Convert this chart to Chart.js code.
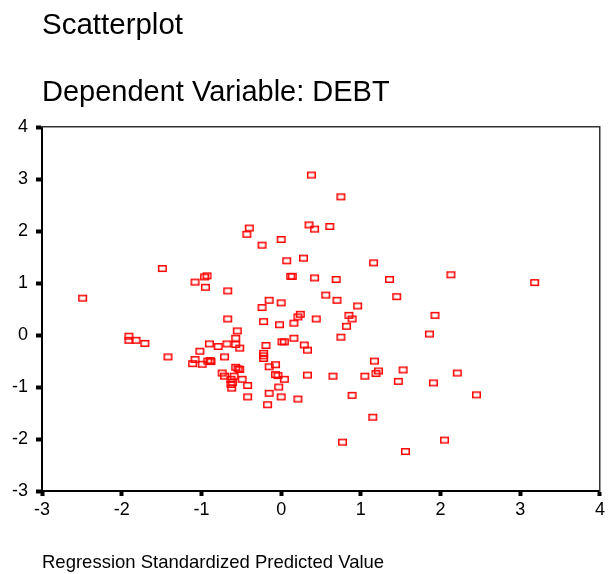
<!DOCTYPE html>
<html><head><meta charset="utf-8">
<script src="https://cdn.jsdelivr.net/npm/chart.js@4"></script>
<style>html,body{margin:0;padding:0;background:#fff}</style>
</head><body>
<canvas id="c" width="608" height="574" style="width:608px;height:574px;display:block"></canvas>
<script>
const titleText = "Scatterplot";
const subtitleText = "Dependent Variable: DEBT";
const xAxisLabel = "Regression Standardized Predicted Value";
const axisMin = -3;
const axisMax = 4;
const predicted = [
 -2.49,-1.49,-1.08,-1.91,-1.91,-1.82,-1.71,-1.42,-1.11,-1.08,-1.02,
 0.38,0.75,-0.40,-0.43,0.35,0.42,0.61,0.00,-0.24,0.07,0.28,1.16,
 -0.96,-0.93,-0.95,-0.67,0.12,0.14,0.42,0.69,1.36,1.45,0.56,0.70,0.96,
 -0.15,0.00,-0.24,-0.67,-0.22,-0.02,0.16,0.21,0.24,0.44,0.85,0.89,0.82,
 0.75,0.16,0.29,0.33,0.01,0.04,-0.19,-0.55,-0.57,-0.57,-0.52,-0.68,-0.79,
 -0.90,-0.99,-0.92,-0.89,-0.88,-0.71,-0.22,-0.22,-0.22,-0.07,-0.15,
 -0.74,-0.71,-0.57,-0.54,-0.52,-0.59,-0.63,-0.61,-0.63,-0.62,-0.49,
 -0.42,-0.42,-0.07,-0.04,0.04,-0.03,-0.15,0.00,-0.17,0.21,0.33,0.65,
 1.05,1.17,1.19,1.22,1.47,0.89,1.15,0.77,2.13,3.18,1.93,1.86,1.53,
 1.91,2.21,2.45,2.05,1.56
];
const residual = [
 0.71,1.28,1.02,-0.02,-0.10,-0.10,-0.16,-0.42,-0.55,-0.47,-0.31,
 3.08,2.66,2.06,1.94,2.12,2.04,2.09,1.84,1.73,1.43,1.48,1.39,
 1.12,1.14,0.92,0.85,1.13,1.13,1.10,1.07,1.07,0.74,0.77,0.67,0.56,
 0.67,0.62,0.53,0.31,0.26,0.20,0.23,0.35,0.40,0.31,0.38,0.31,0.17,
 -0.04,-0.06,-0.19,-0.29,-0.13,-0.13,-0.20,0.08,-0.06,-0.18,-0.25,-0.17,-0.22,
 -0.17,-0.56,-0.50,-0.49,-0.51,-0.42,-0.35,-0.40,-0.45,-0.57,-0.61,
 -0.73,-0.79,-0.62,-0.65,-0.66,-0.79,-0.85,-0.91,-0.95,-1.02,-0.85,
 -0.97,-1.19,-0.76,-0.78,-0.85,-1.00,-1.12,-1.19,-1.34,-1.23,-0.77,-0.79,
 -0.79,-0.50,-0.74,-0.69,-0.89,-1.16,-1.58,-2.06,1.16,1.01,0.38,0.02,-0.67,
 -0.92,-0.73,-1.15,-2.02,-2.24
];

const points = predicted.map((x, i) => ({x: x, y: residual[i]}));

// marker: small hollow red rectangle (about 9 x 7 px)
const marker = document.createElement('canvas');
marker.width = 11; marker.height = 9;
(function(){
  const m = marker.getContext('2d');
  m.strokeStyle = '#ff0000';
  m.lineWidth = 1.5;
  m.strokeRect(1.75, 1.75, 7.5, 5.5);
})();

const FONT = "'Liberation Sans', Arial, Helvetica, sans-serif";

new Chart(document.getElementById('c'), {
  type: 'scatter',
  data: { datasets: [{ data: points, pointStyle: marker, pointRadius: 4, pointHoverRadius: 4 }] },
  options: {
    responsive: false,
    animation: false,
    devicePixelRatio: 1,
    layout: { padding: { left: 0, right: 5, top: 0, bottom: 0 } },
    plugins: {
      legend: { display: false },
      tooltip: { enabled: false },
      title: { display: true, text: titleText, align: 'start', fullSize: false, color: '#000',
               font: { family: FONT, size: 29.5, weight: 'normal' }, padding: { top: 8, bottom: 10 } },
      subtitle: { display: true, text: subtitleText, align: 'start', fullSize: false, color: '#000',
               font: { family: FONT, size: 29, weight: 'normal' }, padding: { top: 22, bottom: 17 } }
    },
    scales: {
      x: {
        type: 'linear', position: 'bottom', min: axisMin, max: axisMax,
        ticks: { stepSize: 1, color: '#000', font: { family: FONT, size: 18 }, padding: 3, maxRotation: 0, autoSkip: false },
        grid: { drawOnChartArea: false, drawTicks: true, tickLength: 5, tickWidth: 4, tickColor: '#000', color: '#000' },
        border: { color: '#000', width: 2 },
        title: { display: true, text: xAxisLabel, align: 'start', color: '#000',
                 font: { family: FONT, size: 18.5 }, padding: { top: 0, bottom: 0 } },
        afterFit(s) { s.height = 83; }
      },
      y: {
        type: 'linear', position: 'left', min: axisMin, max: axisMax,
        ticks: { stepSize: 1, color: '#000', font: { family: FONT, size: 18 }, padding: 8 },
        grid: { drawOnChartArea: false, drawTicks: true, tickLength: 6, tickWidth: 4, tickColor: '#000', color: '#000' },
        border: { color: '#000', width: 2 },
        afterFit(s) { s.width = 42; }
      },
      x2: {
        type: 'linear', position: 'top', min: axisMin, max: axisMax,
        ticks: { display: false }, grid: { display: false, drawTicks: false },
        border: { color: '#333', width: 1.5 },
        afterFit(s) { s.height = 0; }
      },
      y2: {
        type: 'linear', position: 'right', min: axisMin, max: axisMax,
        ticks: { display: false }, grid: { display: false, drawTicks: false },
        border: { color: '#333', width: 1.5 },
        afterFit(s) { s.width = 0; }
      }
    }
  }
});
</script>
</body></html>
